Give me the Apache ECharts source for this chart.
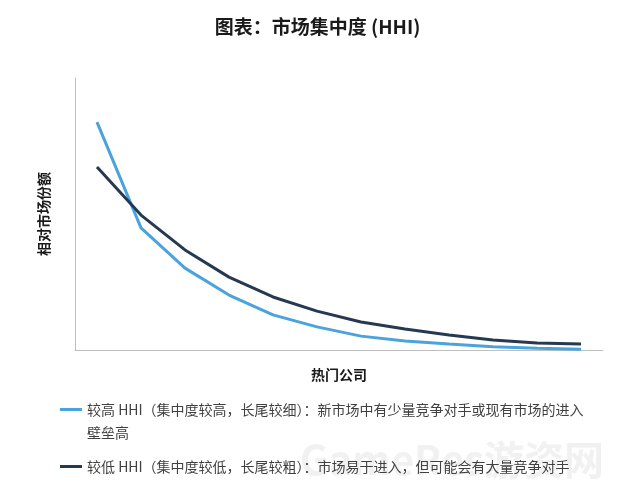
<!DOCTYPE html>
<html>
<head>
<meta charset="utf-8">
<script src="https://cdn.jsdelivr.net/npm/echarts@6/dist/echarts.min.js"></script>
<style>html,body{margin:0;padding:0;background:#fff}#c{width:635px;height:491px}</style>
</head>
<body>
<div id="c"></div>
<script>
const titleText = '图表：市场集中度 (HHI)';
const xName = '热门公司';
const yName = '相对市场份额';
const companies = ['1','2','3','4','5','6','7','8','9','10','11','12'];
const highHHI = [83.8, 44.9, 30.1, 20.2, 12.9, 8.5, 5.1, 3.3, 2.2, 1.2, 0.6, 0.3];
const lowHHI = [67.3, 49.6, 36.8, 26.8, 19.5, 14.3, 10.3, 7.7, 5.5, 3.7, 2.6, 2.2];
const highName = '较高 HHI（集中度较高，长尾较细）：新市场中有少量竞争对手或现有市场的进入\n壁垒高';
const lowName = '较低 HHI（集中度较低，长尾较粗）：市场易于进入，但可能会有大量竞争对手';

const font = '"Noto Sans CJK SC", "Noto Sans", sans-serif';
const chart = echarts.init(document.getElementById('c'));
chart.setOption({
  animation: false,
  textStyle: { fontFamily: font },
  title: {
    text: titleText, left: 'center', top: 12,
    textStyle: { fontSize: 19, fontWeight: 'bold', color: '#1a1a1a', fontFamily: font }
  },
  grid: { left: 75, right: 32, top: 78, bottom: 141, containLabel: false },
  legend: {
    orient: 'vertical', left: 55, top: 370, itemWidth: 22, itemHeight: 3, itemGap: 11,
    icon: 'rect', selectedMode: false,
    formatter: function (name) { return name.indexOf('\n') >= 0 ? '\n' + name : name; },
    textStyle: { fontSize: 14, color: '#404040', lineHeight: 23, fontFamily: font },
    data: [ highName, lowName ]
  },
  xAxis: {
    type: 'category', data: companies, boundaryGap: true,
    name: xName, nameLocation: 'middle', nameGap: 18,
    nameTextStyle: { fontSize: 14, fontWeight: 'bold', color: '#1a1a1a', verticalAlign: 'top' },
    axisLine: { lineStyle: { color: '#bfbfbf', width: 1 } },
    axisTick: { show: false }, axisLabel: { show: false }, splitLine: { show: false }
  },
  yAxis: {
    type: 'value', min: 0, max: 100,
    name: yName, nameLocation: 'middle', nameGap: 24, nameRotate: 90,
    nameTextStyle: { fontSize: 14, fontWeight: 'bold', color: '#1a1a1a' },
    axisLine: { show: true, lineStyle: { color: '#bfbfbf', width: 1 } },
    axisTick: { show: false }, axisLabel: { show: false }, splitLine: { show: false }
  },
  graphic: [{
    type: 'text', left: 300, top: 440, z: -1, silent: true,
    style: { text: 'GameRes游资网', fontSize: 40, fontWeight: 'bold', fill: 'rgba(225,225,225,0.45)', fontFamily: font }
  }],
  series: [
    { name: highName, type: 'line', data: highHHI, symbol: 'none', smooth: false,
      lineStyle: { color: '#4ba3dd', width: 3 }, itemStyle: { color: '#4ba3dd' } },
    { name: lowName, type: 'line', data: lowHHI, symbol: 'none', smooth: false,
      lineStyle: { color: '#253a52', width: 3 }, itemStyle: { color: '#253a52' } }
  ]
});
</script>
</body>
</html>
